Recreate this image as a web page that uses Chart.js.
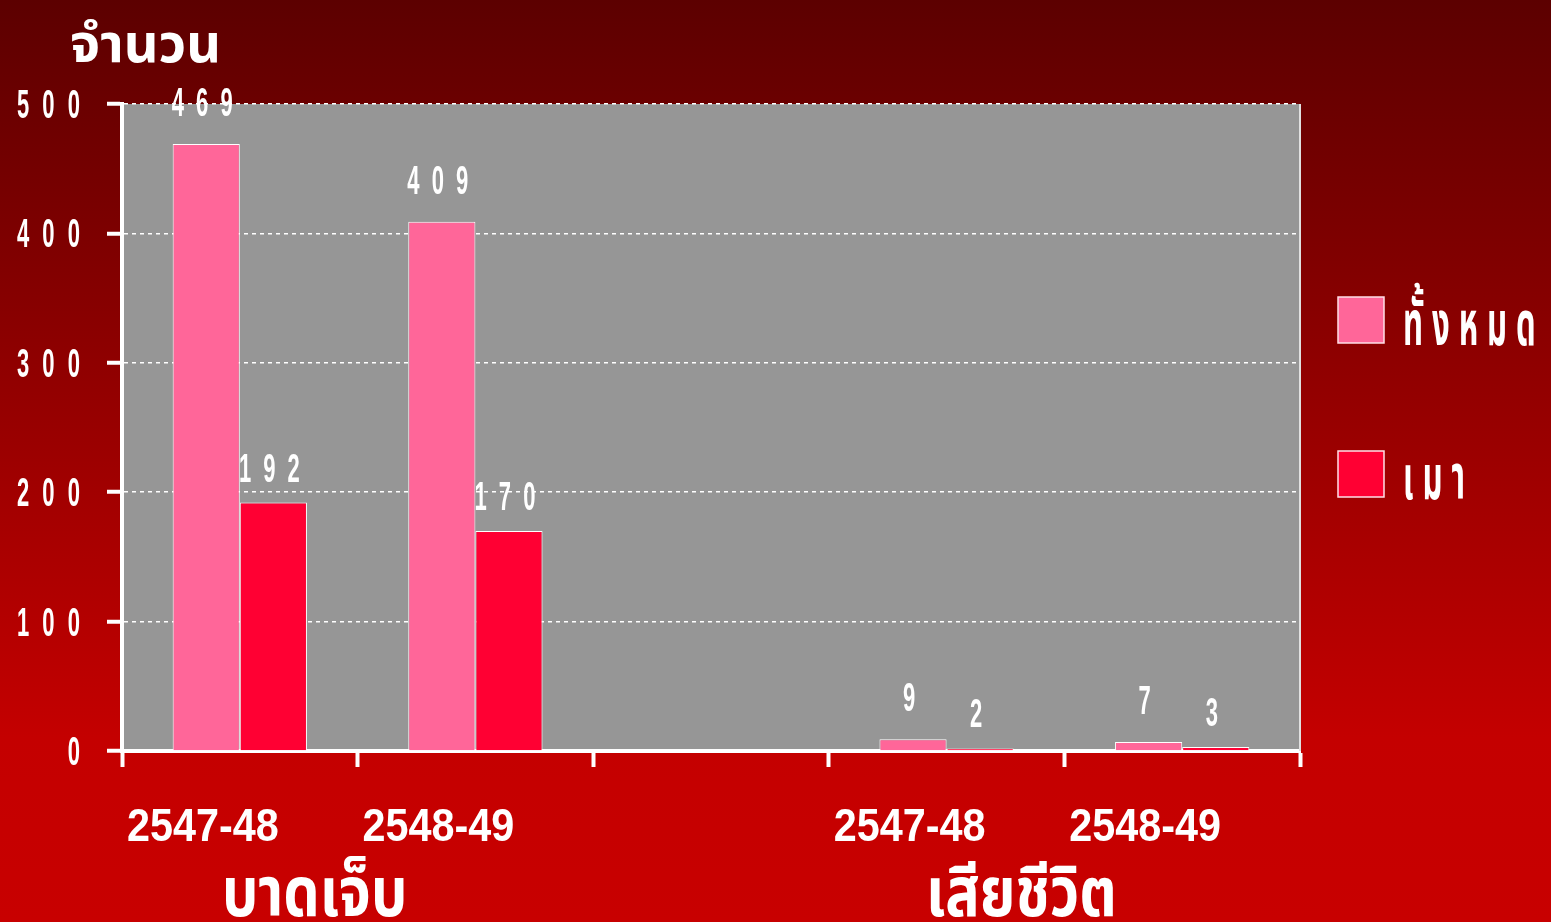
<!DOCTYPE html>
<html>
<head>
<meta charset="utf-8">
<script src="https://cdn.jsdelivr.net/npm/chart.js@4.4.1/dist/chart.umd.min.js"></script>
<style>
  html, body { margin: 0; padding: 0; overflow: hidden; background: #900000; }
  #wrap { width: 1551px; height: 922px; position: relative; }
</style>
</head>
<body>
<div id="wrap"><canvas id="chart"></canvas></div>
<script>
const categories = ['2547-48', '2548-49', '', '2547-48', '2548-49'];
const groupLabels = ['บาดเจ็บ', 'เสียชีวิต'];
const groupRanges = [[0, 1], [3, 4]];
const seriesNames = ['ทั้งหมด', 'เมา'];
const totalValues = [469, 409, null, 9, 7];
const drunkValues = [192, 170, null, 2, 3];
const yTicks = [0, 100, 200, 300, 400, 500];
const yTitle = 'จำนวน';

const NUM_FONT = "'Liberation Sans', Arial, sans-serif";
const THAI_FONT = "'Noto Sans Thai', 'Noto Sans', sans-serif";
const PINK = '#ff6699';
const RED = '#ff0033';

function drawText(ctx, text, x, y, o) {
    ctx.save();
    ctx.font = `bold ${o.size}px ${o.family}`;
    const sp = o.spacing || 0;
    ctx.letterSpacing = sp + 'px';
    ctx.fillStyle = '#fff';
    ctx.textAlign = 'left';
    ctx.textBaseline = 'alphabetic';
    const sx = o.sx || 1;
    const w = (ctx.measureText(text).width - sp) * sx;
    let x0 = x;
    if (o.align === 'center') x0 = x - w / 2;
    if (o.align === 'right') x0 = x - w;
    ctx.translate(x0, y);
    ctx.scale(sx, 1);
    ctx.fillText(text, 0, 0);
    ctx.restore();
}

const decor = {
    id: 'decor',
    beforeDraw(chart) {
        const { ctx, width, height, chartArea: a } = chart;
        const g = ctx.createLinearGradient(0, 0, 0, height);
        g.addColorStop(0, '#5c0000');
        g.addColorStop(0.8, '#c40000');
        g.addColorStop(1, '#c80000');
        ctx.save();
        ctx.fillStyle = g;
        ctx.fillRect(0, 0, width, height);
        ctx.fillStyle = '#969696';
        ctx.fillRect(a.left, a.top, a.right - a.left, a.bottom - a.top);
        ctx.restore();
    },
    afterDatasetsDraw(chart) {
        const ctx = chart.ctx;
        const offsets = [28, 21];
        chart.data.datasets.forEach((ds, di) => {
            chart.getDatasetMeta(di).data.forEach((el, i) => {
                const v = ds.data[i];
                if (v === null) return;
                drawText(ctx, String(v), el.x - 4, el.y - offsets[di],
                    { size: 40, family: NUM_FONT, sx: 0.55, spacing: 22, align: 'center' });
            });
        });
    },
    afterDraw(chart) {
        const { ctx, chartArea: a, scales } = chart;
        const y = scales.y, x = scales.x;
        // right border of plot
        ctx.save();
        ctx.strokeStyle = '#e0e0e0';
        ctx.lineWidth = 2;
        ctx.beginPath();
        ctx.moveTo(a.right, a.top);
        ctx.lineTo(a.right, a.bottom);
        ctx.stroke();
        ctx.restore();

        yTicks.forEach(t => {
            drawText(ctx, String(t), 80, y.getPixelForValue(t) + 14,
                { size: 40, family: NUM_FONT, sx: 0.55, spacing: 24, align: 'right' });
        });
        categories.forEach((c, i) => {
            if (!c) return;
            drawText(ctx, c, x.getPixelForValue(i) - 37, 841,
                { size: 47, family: NUM_FONT, sx: 0.88, align: 'center' });
        });
        groupLabels.forEach((g, i) => {
            const [s, e] = groupRanges[i];
            const cx = (x.getPixelForValue(s) + x.getPixelForValue(e)) / 2 - 43;
            drawText(ctx, g, cx, 916, { size: 70, family: THAI_FONT, sx: 0.82, align: 'center' });
        });
        drawText(ctx, yTitle, 70, 62, { size: 54, family: THAI_FONT, sx: 1 });

        const boxes = [297, 451];
        chart.data.datasets.forEach((ds, i) => {
            ctx.save();
            ctx.fillStyle = ds.backgroundColor;
            ctx.fillRect(1338, boxes[i], 46, 46);
            ctx.strokeStyle = '#ffe0e8';
            ctx.lineWidth = 1.5;
            ctx.strokeRect(1338, boxes[i], 46, 46);
            ctx.restore();
            drawText(ctx, ds.label, 1403, boxes[i] + 48,
                { size: 62, family: THAI_FONT, sx: 0.5, spacing: 18 });
        });
    }
};

new Chart(document.getElementById('chart'), {
    type: 'bar',
    data: {
        labels: categories,
        datasets: [
            { label: seriesNames[0], data: totalValues, backgroundColor: PINK, borderColor: '#fff', borderWidth: 1 },
            { label: seriesNames[1], data: drunkValues, backgroundColor: RED, borderColor: '#fff', borderWidth: 1 }
        ]
    },
    options: {
        responsive: true,
        maintainAspectRatio: false,
        animation: false,
        layout: { padding: { left: 0, top: 104, right: 251, bottom: 0 } },
        plugins: { legend: { display: false }, tooltip: { enabled: false } },
        datasets: { bar: { categoryPercentage: 0.57, barPercentage: 1 } },
        scales: {
            x: {
                offset: true,
                grid: { offset: true, drawOnChartArea: false, drawTicks: true, tickLength: 16, tickColor: '#fff', tickWidth: 4 },
                border: { display: true, color: '#fff', width: 4 },
                ticks: { display: false },
                afterFit: s => { s.height = 171; }
            },
            y: {
                min: 0, max: 500,
                ticks: { display: false, stepSize: 100 },
                grid: { color: '#fff', lineWidth: 1.5, tickLength: 15, tickColor: '#fff', tickWidth: 4 },
                border: { display: true, color: '#fff', width: 4, dash: [4, 4] },
                afterFit: s => { s.width = 122; }
            }
        }
    },
    plugins: [decor]
});
</script>
</body>
</html>
